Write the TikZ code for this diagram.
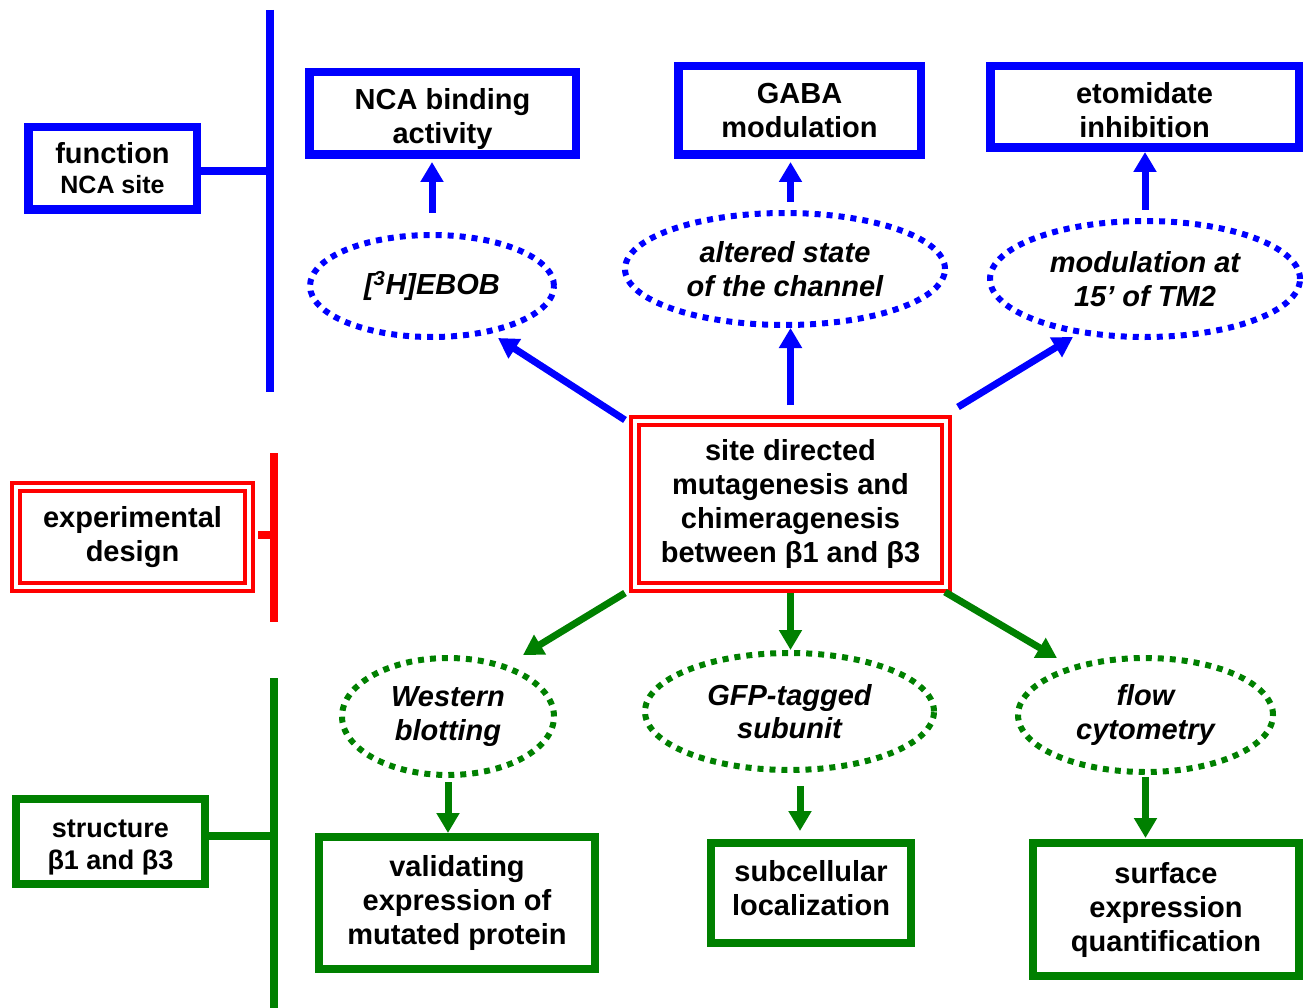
\documentclass[tikz,border=0pt]{standalone}
\usepackage{fontspec}
\setmainfont{Liberation Sans}
\usetikzlibrary{arrows.meta,shapes.geometric,calc}
\definecolor{fblue}{RGB}{0,0,255}
\definecolor{fred}{RGB}{255,0,0}
\definecolor{fgreen}{RGB}{0,128,0}
\newcommand{\mylift}[2]{\raisebox{#1}[\height][\depth]{\begin{tabular}{@{}c@{}}#2\end{tabular}}}
\begin{document}
\begin{tikzpicture}[x=1pt,y=-1pt,
  txt/.style={font=\fontsize{29}{34}\selectfont\bfseries, align=center, text=black},
  itxt/.style={font=\fontsize{29}{33.5}\selectfont\bfseries\itshape, align=center, text=black},
  bbox/.style={txt, rectangle, draw=fblue, line width=8.5pt, inner sep=0pt},
  gbox/.style={txt, rectangle, draw=fgreen, line width=8pt, inner sep=0pt},
  rbox/.style={txt, rectangle, draw=fred, line width=4pt, double=white, double distance=4pt, inner sep=0pt},
  bell/.style={itxt, ellipse, draw=fblue, line width=6pt, dash pattern=on 6pt off 6pt, inner sep=0pt},
  gell/.style={itxt, ellipse, draw=fgreen, line width=6pt, dash pattern=on 6pt off 6pt, inner sep=0pt},
  barrow/.style={draw=fblue, line width=7pt, -{Triangle[length=20pt,width=22pt]}},
  garrow/.style={draw=fgreen, line width=7pt, -{Triangle[length=20pt,width=22pt]}},
  bar/.style={line width=8pt}
]
\fill[white] (0,0) rectangle (1308,1008);
\useasboundingbox (0,0) rectangle (1308,1008);

% left category boxes
\node[bbox, minimum width=168.5pt, minimum height=82.5pt] (fn) at (112.5,168.5)
  {function\\[-4pt]{\fontsize{25}{30}\selectfont NCA site}};
\node[rbox, minimum width=233pt, minimum height=100pt] (exp) at (132.5,537) {experimental\\design};
\node[gbox, minimum width=189pt, minimum height=85pt, font=\fontsize{27}{32}\selectfont\bfseries] (str) at (110.5,841.5)
  {\mylift{-6pt}{structure\\β1 and β3}};

% bars
\coordinate (bt) at (270,10);  \coordinate (bb) at (270,392);
\coordinate (rt) at (274,453); \coordinate (rb) at (274,622);
\coordinate (gt) at (274,678); \coordinate (gb) at (274,1008);
\draw[bar, fblue] (bt) -- (bb);
\draw[bar, fred] (rt) -- (rb);
\draw[bar, fgreen] (gt) -- (gb);
\draw[bar, fblue] ([yshift=-3pt]fn.east) -- ([yshift=-3pt]fn.east -| bt);
\draw[bar, fred, shorten <=7pt] ([yshift=2pt]exp.east) -- ([yshift=2pt]exp.east -| rt);
\draw[bar, fgreen] ([yshift=5.5pt]str.east) -- ([yshift=5.5pt]str.east -| gt);

% top boxes
\node[bbox, minimum width=266.5pt, minimum height=82.5pt] (nca) at (442.5,113.5) {\mylift{-6pt}{NCA binding\\activity}};
\node[bbox, minimum width=242.5pt, minimum height=88.5pt] (gaba) at (799.5,110.5) {GABA\\modulation};
\node[bbox, minimum width=308.5pt, minimum height=81.5pt] (eto) at (1144.5,107) {\mylift{-7pt}{etomidate\\inhibition}};

% blue ellipses
\node[bell, minimum width=244pt, minimum height=102pt] (e1) at (432,286) {[\textsuperscript{3}H]EBOB};
\node[bell, minimum width=320pt, minimum height=112pt] (e2) at (785,269) {altered state\\of the channel};
\node[bell, minimum width=310pt, minimum height=116pt] (e3) at (1145,279) {modulation at\\15’ of TM2};

% center
\node[rbox, minimum width=311pt, minimum height=166pt] (c) at (790.5,504)
  {site directed\\mutagenesis and\\chimeragenesis\\between β1 and β3};

% green ellipses
\node[gell, minimum width=212pt, minimum height=117pt] (g1) at (448,716.5) {Western\\blotting};
\node[gell, minimum width=289pt, minimum height=117pt] (g2) at (789.5,711.5) {GFP-tagged\\subunit};
\node[gell, minimum width=255pt, minimum height=114pt] (g3) at (1145.5,715) {flow\\cytometry};

% green boxes
\node[gbox, minimum width=276pt, minimum height=132pt] (val) at (457,903) {validating\\expression of\\mutated protein};
\node[gbox, minimum width=200pt, minimum height=100pt] (sub) at (811,893) {\mylift{1pt}{subcellular\\localization}};
\node[gbox, minimum width=266pt, minimum height=133pt] (sur) at (1166,909.5) {surface\\expression\\quantification};

% blue arrows
\draw[barrow, shorten <=19pt, shorten >=3pt] (e1.north) -- (e1.north |- nca.south);
\draw[barrow, shorten <=8pt, shorten >=3pt] ([xshift=5.5pt]e2.north) -- ([xshift=5.5pt]e2.north |- gaba.south);
\draw[barrow, shorten <=8pt] (e3.north) -- (e3.north |- eto.south);
\draw[barrow] ([shift={(-8,1)}]c.north west) -- ([shift={(66,52)}]e1.center);
\draw[barrow, shorten <=14pt] (c.north) -- (c.north |- e2.south);
\draw[barrow] ([shift={(10,-12)}]c.north east) -- ([shift={(-72,58)}]e3.center);

% green arrows
\draw[garrow] ([shift={(-8,4)}]c.south west) -- ([shift={(75,-61.5)}]g1.center);
\draw[garrow, shorten <=4pt] (c.south) -- (c.south |- g2.north);
\draw[garrow] ([shift={(-3,3)}]c.south east) -- ([shift={(-88.5,-57)}]g3.center);
\draw[garrow, shorten <=4pt] (g1.south) -- (g1.south |- val.north);
\draw[garrow] ([xshift=10.5pt,yshift=-13pt]g2.south) -- ([xshift=-11pt,yshift=8pt]sub.north);
\draw[garrow, shorten <=2pt, shorten >=1pt] (g3.south) -- (g3.south |- sur.north);
\end{tikzpicture}
\end{document}
